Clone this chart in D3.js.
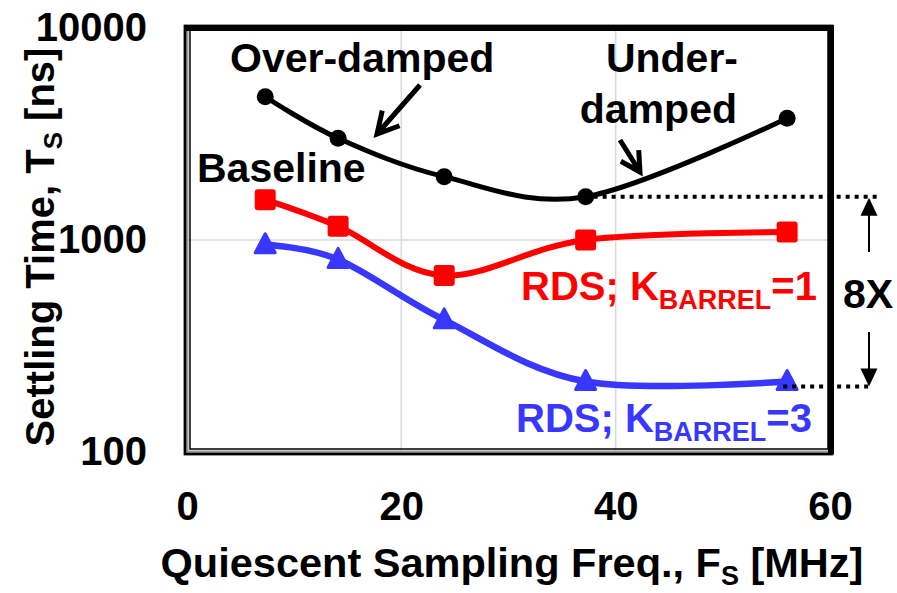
<!DOCTYPE html>
<html>
<head>
<meta charset="utf-8">
<script src="https://cdn.jsdelivr.net/npm/d3@7"></script>
<style>
body { margin: 0; background: #fff; }
text { font-family: "Liberation Sans", Arial, sans-serif; font-weight: bold; }
</style>
</head>
<body>
<svg class="chart"></svg>
<script>
// settling time vs quiescent sampling frequency

var freq = [7.3, 14.1, 24, 37.2, 56];
var baseline = [4740, 3020, 1990, 1600, 3750];
var rds_k1 = [1550, 1160, 680, 1000, 1090];
var rds_k3 = [950, 810, 420, 215, 215];
var x_ticks = [0, 20, 40, 60];
var y_ticks = [100, 1000, 10000];

var width = 897;
var height = 593;
var plot = {left: 187, right: 830, top: 28, bottom: 452};

var svg = d3.select(".chart")
	.attr("width", width)
	.attr("height", height);

var x = d3.scaleLinear().domain([0, 60]).range([plot.left, plot.right]);
var y = d3.scaleLog().domain([100, 10000]).range([plot.bottom, plot.top]);

// gridlines
svg.selectAll(".vgrid")
	.data([20, 40])
.enter().append("line")
	.attr("x1", function(d) { return x(d); })
	.attr("x2", function(d) { return x(d); })
	.attr("y1", plot.top)
	.attr("y2", plot.bottom)
	.attr("stroke", "#d9d9d9")
	.attr("stroke-width", 1.5);

svg.append("line")
	.attr("x1", plot.left)
	.attr("x2", plot.right)
	.attr("y1", y(1000))
	.attr("y2", y(1000))
	.attr("stroke", "#d9d9d9")
	.attr("stroke-width", 1.5);

// frame (double border look)
svg.append("rect")
	.attr("x", plot.left - 1).attr("y", plot.top - 1)
	.attr("width", plot.right - plot.left + 2).attr("height", plot.bottom - plot.top + 2)
	.attr("fill", "none").attr("stroke", "#999").attr("stroke-width", 5);
svg.append("rect")
	.attr("x", plot.left - 2).attr("y", plot.top - 2)
	.attr("width", plot.right - plot.left + 4).attr("height", plot.bottom - plot.top + 4)
	.attr("fill", "none").attr("stroke", "#000").attr("stroke-width", 2.5);
svg.append("rect")
	.attr("x", plot.left + 3).attr("y", plot.top + 2)
	.attr("width", plot.right - plot.left - 5).attr("height", plot.bottom - plot.top - 5)
	.attr("fill", "none").attr("stroke", "#000").attr("stroke-width", 1.5);
svg.append("path")
	.attr("d", "M" + (plot.left - 2) + "," + (plot.top) + "H" + (plot.right + 1) + "V" + (plot.bottom + 2))
	.attr("fill", "none").attr("stroke", "#000").attr("stroke-width", 6);

// axes
var xAxis = svg.append("g")
	.attr("transform", "translate(0," + plot.bottom + ")")
	.call(d3.axisBottom(x).tickValues(x_ticks).tickSize(0).tickPadding(40));
var yAxis = svg.append("g")
	.attr("transform", "translate(" + plot.left + ",0)")
	.call(d3.axisLeft(y).tickValues(y_ticks).tickFormat(d3.format("d")).tickSize(0).tickPadding(40));
[xAxis, yAxis].forEach(function(a) {
	a.select(".domain").remove();
	a.selectAll("text")
		.attr("fill", "#000")
		.style("font-size", "40px")
		.style("font-family", "'Liberation Sans', Arial, sans-serif")
		.style("font-weight", "bold");
});

// axis titles
var xt = svg.append("text")
	.attr("x", 512)
	.attr("y", 577)
	.attr("text-anchor", "middle")
	.style("font-size", "41.5px");
xt.append("tspan").text("Quiescent Sampling Freq., F");
xt.append("tspan").attr("dy", 8).style("font-size", "27px").text("S");
xt.append("tspan").attr("dy", -8).text(" [MHz]");

var yt = svg.append("text")
	.attr("transform", "translate(54,247) rotate(-90)")
	.attr("text-anchor", "middle")
	.style("font-size", "40px");
yt.append("tspan").text("Settling Time, T");
yt.append("tspan").attr("dy", 8).style("font-size", "26px").text("S");
yt.append("tspan").attr("dy", -8).text(" [ns]");

// series
var series = [
	{name: "base", values: baseline, color: "#000", width: 5},
	{name: "k1", values: rds_k1, color: "#ff0000", width: 6},
	{name: "k3", values: rds_k3, color: "#3737ff", width: 6.5}
];

var line = d3.line()
	.x(function(d) { return x(d[0]); })
	.y(function(d) { return y(d[1]); })
	.curve(d3.curveCardinal.tension(0));

series.forEach(function(s) {
	var pts = freq.map(function(f, i) { return [f, s.values[i]]; });
	svg.append("path")
		.datum(pts)
		.attr("d", line)
		.attr("fill", "none")
		.attr("stroke", s.color)
		.attr("stroke-width", s.width);

	var g = svg.selectAll(".m" + s.name)
		.data(pts)
	.enter().append("g")
		.attr("transform", function(d) { return "translate(" + x(d[0]) + "," + y(d[1]) + ")"; });

	if (s.name == "base") {
		g.append("circle").attr("r", 8.5).attr("fill", s.color);
	} else if (s.name == "k1") {
		g.append("rect")
			.attr("x", -10.5).attr("y", -10.5)
			.attr("width", 21).attr("height", 21)
			.attr("rx", 3)
			.attr("fill", s.color);
	} else {
		g.append("path")
			.attr("d", "M0,-11L10,8H-10Z")
			.attr("fill", s.color)
			.attr("stroke", s.color)
			.attr("stroke-width", 3)
			.attr("stroke-linejoin", "round");
	}
});

// labels
function label(txt, xx, yy, color, anchor) {
	return svg.append("text")
		.attr("x", xx).attr("y", yy)
		.attr("fill", color)
		.attr("text-anchor", anchor || "start")
		.style("font-size", "41px")
		.text(txt);
}
label("Over-damped", 230, 72, "#000");
label("Under-", 738, 72, "#000", "end");
label("damped", 737, 123, "#000", "end");
label("Baseline", 197, 182, "#000");
label("8X", 843, 308, "#000");

function rds_label(num, xx, yy, color) {
	var t = svg.append("text")
		.attr("x", xx).attr("y", yy)
		.attr("fill", color)
		.style("font-size", "40px");
	t.append("tspan").text("RDS; K");
	t.append("tspan").attr("dy", 9).style("font-size", "27px").text("BARREL");
	t.append("tspan").attr("dy", -9).text("=" + num);
}
rds_label(1, 521, 300, "#ff0000");
rds_label(3, 516, 432, "#3737ff");

// open arrows pointing at the black curve
function open_arrow(x1, y1, x2, y2, head) {
	var ang = Math.atan2(y1 - y2, x1 - x2);
	var a1 = ang + 0.5, a2 = ang - 0.5;
	var d = "M" + x1 + "," + y1 + "L" + x2 + "," + y2 +
		"M" + (x2 + head * Math.cos(a1)) + "," + (y2 + head * Math.sin(a1)) +
		"L" + x2 + "," + y2 +
		"L" + (x2 + head * Math.cos(a2)) + "," + (y2 + head * Math.sin(a2));
	svg.append("path")
		.attr("d", d)
		.attr("fill", "none")
		.attr("stroke", "#000")
		.attr("stroke-width", 5);
}
open_arrow(420, 85, 377, 134, 24);
open_arrow(620, 140, 640, 172, 22);

// dotted reference lines and 8X arrows
svg.append("line")
	.attr("x1", x(freq[3]) + 8).attr("x2", 878)
	.attr("y1", y(baseline[3])).attr("y2", y(baseline[3]))
	.attr("stroke", "#000").attr("stroke-width", 4).attr("stroke-dasharray", "4,5");
svg.append("line")
	.attr("x1", x(freq[4]) - 4).attr("x2", 872)
	.attr("y1", y(rds_k3[4]) + 5).attr("y2", y(rds_k3[4]) + 5)
	.attr("stroke", "#000").attr("stroke-width", 4).attr("stroke-dasharray", "4,5");

function solid_arrow(xx, yFrom, yTo) {
	var dir = yTo < yFrom ? 1 : -1;
	svg.append("line")
		.attr("x1", xx).attr("x2", xx)
		.attr("y1", yFrom).attr("y2", yTo + dir * 15)
		.attr("stroke", "#000").attr("stroke-width", 2);
	svg.append("path")
		.attr("d", "M" + xx + "," + yTo + "L" + (xx - 8.5) + "," + (yTo + dir * 18) + "L" + (xx + 8.5) + "," + (yTo + dir * 18) + "Z")
		.attr("fill", "#000");
}
solid_arrow(869, 252, y(baseline[3]) + 1);
solid_arrow(869, 332, y(rds_k3[4]) + 5);
</script>
</body>
</html>
